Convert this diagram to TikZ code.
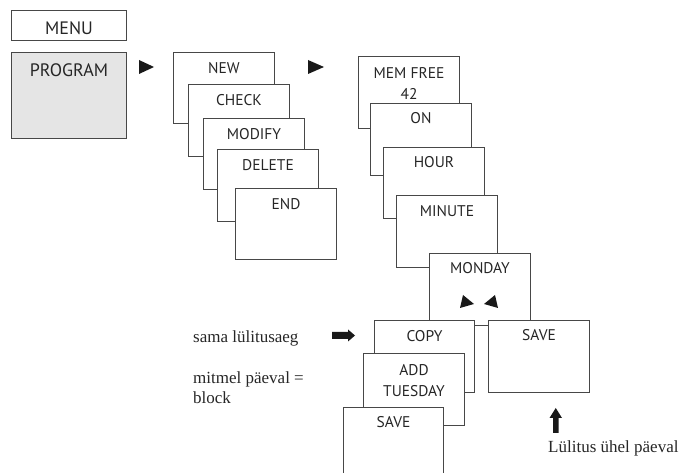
\documentclass[tikz,border=0pt]{standalone}
\usepackage{fontspec}
\setmainfont{Liberation Serif}
\newfontfamily\dinfont{PT Sans}
\begin{document}
\begin{tikzpicture}[x=1pt,y=-1pt,
  panel/.style={draw=black!72, line width=1pt, fill=white, anchor=north west,
    minimum width=101pt, minimum height=72pt, inner sep=0pt},
  lbl/.style={font=\dinfont\fontsize{15.5}{20}\selectfont, text=black!85,
    anchor=base, inner sep=0pt},
  biglbl/.style={lbl, font=\dinfont\fontsize{18}{22}\selectfont},
  note/.style={font=\fontsize{17}{20}\selectfont, text=black!85,
    anchor=base west, inner sep=0pt},
  marker/.style={fill=black!90, draw=none}]
\useasboundingbox (0,0) rectangle (681,473);
\clip (0,0) rectangle (681,473);

% menu level
\node[panel, minimum width=115pt, minimum height=30pt] (menu) at (11,10) {};
\node[biglbl] (menutxt) at ([yshift=-24.5pt]menu.north) {MENU};
\node[panel, minimum width=115pt, minimum height=86pt, fill=black!10] (program) at (11,52) {};
\node[biglbl] (programtxt) at ([yshift=-24.5pt]program.north) {PROGRAM};

\fill[marker] (139,60) -- (154,67) -- (139,74) -- cycle;

% program sub-menu
\node[panel, minimum height=71pt] (new) at (173,52) {};
\node[lbl] (newtxt) at ([yshift=-22pt]new.north) {NEW};
\node[panel] (check) at (188,84) {};
\node[lbl] (checktxt) at ([yshift=-22pt]check.north) {CHECK};
\node[panel, minimum height=71pt] (modify) at (203,118) {};
\node[lbl] (modifytxt) at ([yshift=-22pt]modify.north) {MODIFY};
\node[panel] (delete) at (217,149) {};
\node[lbl] (deletetxt) at ([yshift=-22pt]delete.north) {DELETE};
\node[panel, minimum height=71pt] (end) at (235,188) {};
\node[lbl] (endtxt) at ([yshift=-22pt]end.north) {END};

\fill[marker] (308,60) -- (324,67) -- (308,74) -- cycle;

% new program steps
\node[panel] (memfree) at (358,56) {};
\node[lbl] (memtxt) at ([yshift=-23pt]memfree.north) {MEM FREE};
\node[lbl] (memnum) at ([yshift=-44pt]memfree.north) {42};
\node[panel] (on) at (370,103) {};
\node[lbl] (ontxt) at ([yshift=-21pt]on.north) {ON};
\node[panel, minimum height=71pt] (hour) at (383,147) {};
\node[lbl] (hourtxt) at ([yshift=-21pt]hour.north) {HOUR};
\node[panel] (minute) at (396,195) {};
\node[lbl] (minutetxt) at ([yshift=-22pt]minute.north) {MINUTE};
\node[panel] (monday) at (429,253) {};
\node[lbl] (mondaytxt) at ([yshift=-21pt]monday.north) {MONDAY};
\fill[marker] (463,295) -- (474,304) -- (460,308) -- cycle;
\fill[marker] (495,295) -- (498,308) -- (484,304) -- cycle;

% day selection
\node[panel, minimum width=100pt] (copy) at (374,320) {};
\node[lbl] (copytxt) at ([yshift=-22pt]copy.north) {COPY};
\node[panel] (saveone) at (488,320) {};
\node[lbl] (saveonetxt) at ([yshift=-21pt]saveone.north) {SAVE};
\node[panel] (addtue) at (363,353) {};
\node[lbl] (addtxt) at ([yshift=-23pt]addtue.north) {ADD};
\node[lbl] (tuetxt) at ([yshift=-43pt]addtue.north) {TUESDAY};
\node[panel, minimum width=100pt, minimum height=90pt] (saveblock) at (343,407) {};
\node[lbl] (saveblocktxt) at ([yshift=-21pt]saveblock.north) {SAVE};

% thick arrows
\fill[marker] (332,332) -- (348,332) -- (348,329.5) -- (355,335.5)
  -- (348,341.5) -- (348,339) -- (332,339) -- cycle;
\fill[marker] (553,433) -- (553,418) -- (549.5,418) -- (555.75,408)
  -- (562,418) -- (558.5,418) -- (558.5,433) -- cycle;

% annotations
\node[note] (same) at (193,343) {sama lülitusaeg};
\node[note] (multi) at (193,384) {mitmel päeval =};
\node[note] (block) at (193,403.5) {block};
\node[note] (oneday) at (548,453) {Lülitus ühel päeval};
\end{tikzpicture}
\end{document}
